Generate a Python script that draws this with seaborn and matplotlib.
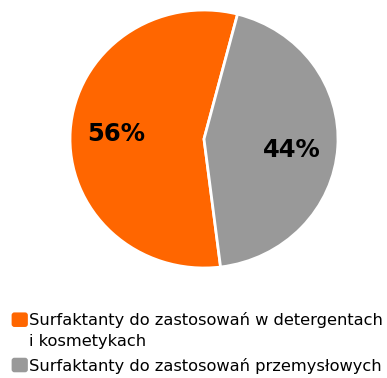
import matplotlib
matplotlib.use("Agg")
import matplotlib.pyplot as plt
import seaborn as sns
from matplotlib.patches import FancyBboxPatch, Patch
from matplotlib.legend_handler import HandlerPatch

sns.set_theme(style="white")
plt.rcParams['font.family'] = ['DejaVu Sans']

categories = ["Surfaktanty do zastosowań w detergentach\ni kosmetykach",
              "Surfaktanty do zastosowań przemysłowych"]
values = [56, 44]
colors = ["#FF6600", "#999999"]

fig = plt.figure(figsize=(3.87, 3.78), dpi=100)
ax = fig.add_axes([0.1809, 0.291, 0.6925, 0.6825])
wedges, texts, autotexts = ax.pie(
    values, colors=colors, startangle=75.5, counterclock=True,
    autopct=lambda p: f"{p:.0f}%", pctdistance=0.66,
    wedgeprops=dict(edgecolor="white", linewidth=2),
    textprops=dict(fontsize=17.5, fontweight="bold", color="black"))
x, y = autotexts[1].get_position()
autotexts[1].set_position((x, y - 0.04))
ax.set_xlim(-1.0, 1.0)
ax.set_ylim(-1.0, 1.0)
ax.set_aspect("auto")
ax.axis("off")


def make_square(shift):
    def f(legend, orig_handle, xdescent, ydescent, width, height, fontsize):
        return FancyBboxPatch((-xdescent, -ydescent + shift), width, height,
                              boxstyle="round,pad=0,rounding_size=2")
    return f


handles = [Patch(facecolor=c, edgecolor="none") for c in colors]
leg = fig.legend(handles, categories, loc="upper left", bbox_to_anchor=(0.03, 0.175),
                 frameon=False, fontsize=11.7, handlelength=1.0, handleheight=1.0,
                 handletextpad=0.08, labelspacing=0.5, borderaxespad=0, borderpad=0,
                 labelcolor="black",
                 handler_map={handles[0]: HandlerPatch(patch_func=make_square(8.2)),
                              handles[1]: HandlerPatch(patch_func=make_square(0))})
for t in leg.get_texts():
    t.set_linespacing(1.55)

fig.savefig("out.png", dpi=100, facecolor="white")
